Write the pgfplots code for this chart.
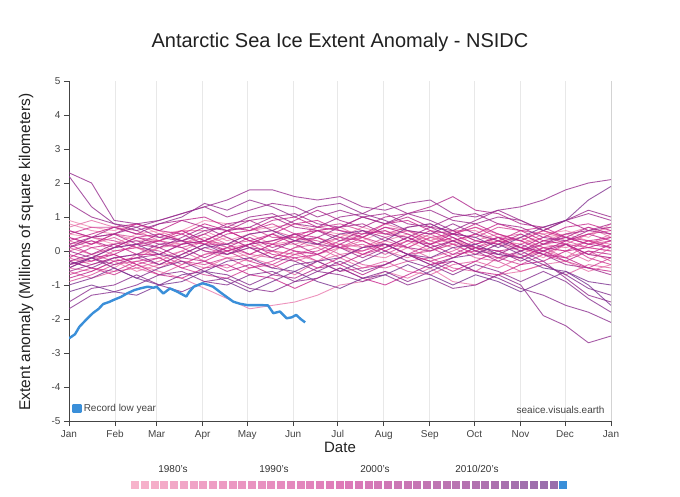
\documentclass[border=0pt]{standalone}
\usepackage{fontspec}
\setmainfont{Liberation Sans}
\usepackage{pgfplots}
\usepackage{pgfplotstable}
\pgfplotsset{compat=1.18}

\definecolor{pk}{HTML}{F391B6}
\definecolor{mg}{HTML}{C8268C}
\definecolor{pu}{HTML}{7A3592}
\definecolor{blue23}{HTML}{3A8FD9}
\definecolor{axgray}{HTML}{444444}
\definecolor{gridgray}{HTML}{E8E8E8}
\definecolor{labgray}{HTML}{444444}

% one row per year, anomaly (million km^2) at evenly spaced days of the year
\pgfplotstableread{
yr 0 15.2 30.4 45.6 60.8 76.0 91.3 106.5 121.7 136.9 152.1 167.3 182.5 197.7 212.9 228.1 243.3 258.5 273.8 289.0 304.2 319.4 334.6 349.8 365
y1979 0.5 0.4 0.2 0.5 0.6 0.3 0.2 0.4 0.1 0.3 0.4 0.2 0.5 0.4 0.1 0.3 0.0 0.2 0.5 0.3 0.4 0.6 0.3 0.5 0.7
y1980 0.9 0.7 0.6 0.8 0.5 0.6 0.9 0.8 0.6 0.7 0.8 0.6 0.5 0.3 0.6 0.4 0.2 0.4 0.0 0.3 0.2 0.5 0.6 0.4 0.8
y1981 -0.3 -0.2 -0.5 -0.1 0.1 0.3 0.0 -0.2 -0.1 0.2 0.3 0.1 0.4 0.7 0.5 0.6 0.4 0.3 0.5 0.2 0.1 -0.2 0.2 -0.1 -0.2
y1982 0.8 0.6 0.5 0.3 0.3 0.6 0.6 0.3 0.5 0.2 0.2 0.4 0.2 0.1 0.3 0.5 0.3 0.6 0.6 0.3 0.2 0.4 0.5 0.7 0.4
y1983 -0.5 -0.6 -0.3 -0.6 -0.4 -0.3 -0.5 -0.2 -0.3 0.0 -0.1 -0.3 0.1 -0.1 -0.2 0.1 0.4 0.2 -0.1 0.2 0.0 0.3 0.5 0.3 0.2
y1984 0.3 0.1 -0.1 -0.4 -0.6 -0.8 -1.1 -1.4 -1.7 -1.6 -1.5 -1.3 -1.0 -0.9 -0.6 -0.8 -0.5 -0.9 -1.0 -0.7 -0.6 -0.4 -0.3 -0.6 -0.4
y1985 0.2 0.3 0.0 0.1 -0.2 0.0 0.3 0.1 0.2 0.5 0.3 0.6 0.7 0.4 0.8 0.6 0.3 0.5 0.7 0.5 0.3 0.1 0.0 -0.3 0.1
y1986 0.7 0.9 0.7 0.6 0.3 0.2 0.4 0.1 -0.2 0.0 -0.3 -0.1 0.1 0.3 0.0 -0.2 0.1 0.3 0.1 0.4 0.5 0.2 0.1 0.3 0.1
y1987 -0.2 -0.4 -0.2 -0.5 -0.3 0.0 -0.3 -0.5 -0.2 -0.4 -0.7 -0.3 -0.1 0.0 0.3 0.1 -0.2 0.0 0.3 0.5 0.3 0.6 0.4 0.2 0.5
y1988 0.1 -0.1 -0.3 -0.2 0.1 0.2 0.5 0.2 0.3 0.0 -0.1 0.1 -0.2 -0.5 -0.3 -0.6 -0.7 -0.4 -0.3 -0.5 -0.2 0.0 -0.2 0.2 0.3
y1989 -0.6 -0.8 -0.6 -0.5 -0.7 -0.4 -0.1 0.0 0.2 0.3 0.5 0.2 0.4 0.1 0.4 0.6 0.3 0.1 -0.2 -0.3 -0.6 -0.4 -0.7 -0.4 -0.5
y1990 0.4 0.2 0.4 0.1 -0.1 -0.4 -0.1 0.1 -0.1 -0.2 0.1 0.2 -0.1 -0.4 -0.5 -0.3 -0.2 -0.5 -0.6 -0.2 -0.1 0.2 0.3 0.1 0.0
y1991 -0.9 -0.7 -0.4 -0.3 -0.5 -0.2 0.1 -0.1 0.1 -0.2 0.1 0.4 0.1 0.2 -0.1 0.2 0.5 0.6 0.3 0.2 0.4 0.1 -0.2 0.0 -0.3
y1992 0.0 0.2 0.5 0.4 0.3 0.6 0.3 0.2 0.5 0.6 0.4 0.3 0.1 0.4 0.7 0.6 0.5 0.2 0.1 -0.1 -0.2 0.1 0.2 0.5 0.6
y1993 -0.4 -0.3 0.0 0.1 0.3 0.1 0.3 0.6 0.7 0.4 0.4 0.7 0.8 0.6 0.5 0.7 0.8 0.5 0.4 0.7 0.6 0.5 0.2 0.1 0.0
y1994 0.6 0.4 0.3 0.1 0.0 -0.3 -0.4 -0.2 -0.5 -0.3 0.0 -0.3 -0.6 -0.5 -0.4 -0.1 0.0 0.2 -0.1 -0.2 -0.4 -0.1 -0.3 -0.5 -0.2
y1995 -0.3 -0.5 -0.6 -0.3 -0.2 -0.5 -0.7 -0.8 -0.5 -0.4 -0.1 0.0 0.3 0.4 0.2 0.1 0.4 0.5 0.7 0.4 0.3 0.6 0.4 0.2 0.4
y1996 0.2 -0.1 0.1 0.4 0.5 0.3 0.2 0.5 0.6 0.8 0.5 0.4 0.1 0.0 0.2 -0.1 -0.3 -0.1 0.0 0.3 0.1 -0.1 0.2 -0.2 -0.4
y1997 -0.7 -0.5 -0.7 -0.4 -0.2 -0.5 -0.3 0.0 -0.3 -0.5 -0.2 -0.1 0.2 -0.1 0.1 0.4 0.1 -0.2 0.1 0.3 0.6 0.7 0.4 0.3 0.1
y1998 0.5 0.7 0.7 0.5 0.4 0.6 0.3 0.0 0.2 -0.1 -0.2 -0.5 -0.2 0.1 0.2 -0.1 0.2 0.4 0.1 0.0 -0.2 0.1 0.0 0.3 0.4
y1999 -0.2 0.1 0.2 -0.1 -0.1 0.2 0.3 0.6 0.3 0.5 0.8 0.9 0.6 0.5 0.8 0.9 0.6 0.5 0.2 0.4 0.1 0.4 0.7 0.8 0.6
y2000 0.3 0.5 0.7 0.8 0.6 0.5 0.8 0.6 0.3 0.2 0.5 0.6 0.4 0.3 0.0 0.3 0.6 0.3 0.5 0.8 0.6 0.3 0.2 -0.1 0.2
y2001 -0.1 -0.3 -0.1 -0.4 -0.7 -0.8 -0.5 -0.4 -0.7 -0.8 -1.1 -0.8 -0.5 -0.8 -1.0 -0.7 -0.4 -0.3 -0.6 -0.7 -0.4 -0.3 0.0 0.1 0.3
y2002 -0.5 -0.2 -0.1 0.2 0.3 0.5 0.2 0.2 -0.1 0.2 0.0 -0.1 -0.4 -0.1 0.2 -0.1 -0.3 -0.6 -0.3 0.0 0.1 -0.1 -0.2 -0.5 -0.6
y2003 0.4 0.2 0.5 0.8 0.6 0.9 1.0 0.7 0.6 0.9 1.0 0.7 0.6 0.4 0.7 0.5 0.2 0.5 0.8 0.5 0.3 0.0 0.3 0.5 0.3
y2004 -0.8 -0.6 -0.3 -0.2 -0.4 -0.1 0.2 0.0 0.2 0.5 0.2 -0.1 0.2 0.5 0.6 0.3 0.2 -0.1 0.2 0.4 0.1 0.0 -0.3 0.0 -0.1
y2005 0.1 0.3 0.1 0.4 0.2 0.1 -0.2 0.1 0.4 0.1 0.3 0.6 0.7 1.0 0.8 1.0 0.7 0.6 0.3 0.2 0.5 0.2 0.4 0.7 0.5
y2006 0.6 0.4 0.5 0.2 0.1 -0.2 -0.3 -0.6 -0.4 -0.7 -0.8 -0.5 -0.4 -0.7 -0.4 -0.1 -0.4 -0.2 0.1 -0.2 0.0 0.3 0.4 0.2 0.1
y2007 -0.4 -0.2 0.1 0.2 0.5 0.3 0.5 0.8 0.9 0.6 0.9 1.2 0.9 0.7 1.0 1.1 1.3 1.6 1.2 1.1 0.8 0.7 0.9 0.6 0.5
y2008 0.2 0.4 0.7 0.5 0.8 0.9 0.7 0.6 0.9 1.0 0.7 0.6 0.3 0.6 0.4 0.1 0.0 0.3 0.0 -0.3 0.0 0.2 0.5 0.6 0.8
y2009 -0.3 -0.1 0.2 0.3 0.1 0.4 0.7 0.4 0.1 0.0 0.3 0.4 0.7 0.8 0.5 0.4 0.7 0.4 0.1 0.0 -0.3 0.0 0.2 -0.1 -0.2
y2010 0.0 -0.2 -0.4 -0.2 -0.1 0.2 0.3 0.6 0.7 1.0 1.1 0.8 0.7 1.0 1.1 0.8 0.7 1.0 1.1 0.8 0.7 0.4 0.3 0.6 0.7
y2011 -0.6 -0.4 -0.2 -0.1 0.2 0.3 0.0 -0.1 0.2 0.3 0.5 0.2 0.1 -0.2 0.1 0.4 0.1 0.3 0.0 -0.1 0.2 -0.1 -0.4 -0.5 -0.7
y2012 0.1 0.4 0.5 0.7 0.4 0.3 0.6 0.7 1.0 1.1 0.8 0.7 1.0 1.1 1.4 1.1 0.9 0.6 0.9 1.2 0.9 0.6 0.9 1.1 0.9
y2013 1.4 1.0 0.8 0.7 0.9 1.1 1.3 1.0 1.2 1.4 1.3 1.0 1.2 1.0 0.8 1.1 1.2 0.9 0.8 1.0 0.9 0.6 0.9 1.2 1.0
y2014 2.3 2.0 0.9 0.8 0.9 1.1 1.3 1.5 1.8 1.8 1.6 1.5 1.6 1.3 1.2 1.4 1.5 1.1 1.0 1.2 1.3 1.5 1.8 2.0 2.1
y2015 2.2 1.3 0.8 0.6 0.8 1.0 1.4 1.2 1.5 1.3 1.0 1.3 1.4 1.1 0.9 0.6 0.5 0.8 0.5 0.3 0.0 -0.3 -0.8 -1.3 -1.5
y2016 -0.3 -0.5 -0.2 -0.1 -0.4 -0.1 0.2 -0.1 0.1 -0.2 -0.3 -0.6 -0.7 -0.9 -0.7 -1.0 -0.8 -1.1 -1.0 -0.7 -1.0 -1.9 -2.2 -2.7 -2.5
y2017 -1.5 -1.1 -1.0 -0.7 -1.0 -1.2 -0.9 -0.8 -1.1 -1.2 -0.9 -0.8 -0.5 -0.8 -0.6 -0.9 -0.6 -0.3 -0.6 -0.8 -1.1 -1.3 -1.6 -1.8 -2.1
y2018 -1.7 -1.3 -1.2 -1.0 -0.7 -0.6 -0.9 -1.0 -0.7 -0.6 -0.9 -0.6 -0.3 -0.6 -0.4 -0.1 -0.4 -0.7 -0.4 -0.6 -0.9 -0.6 -0.9 -1.4 -1.8
y2019 -0.5 -0.2 -0.5 -0.8 -0.5 -0.3 -0.6 -0.7 -1.0 -0.7 -0.4 -0.3 -0.6 -0.3 0.0 -0.3 -0.5 -0.2 -0.1 0.2 -0.1 -0.4 -0.7 -1.1 -1.3
y2020 -0.4 -0.2 0.1 0.2 -0.1 -0.2 0.1 0.2 0.5 0.6 0.3 0.2 0.5 0.6 0.3 0.7 0.8 0.5 0.4 0.1 0.4 0.7 0.9 1.5 1.9
y2021 -1.0 -0.8 -0.5 -0.8 -1.0 -0.7 -0.6 -0.3 -0.2 -0.5 -0.6 -0.3 -0.2 0.1 0.2 -0.1 -0.2 0.1 0.2 -0.1 -0.2 -0.5 -0.6 -0.9 -1.0
y2022 -1.2 -1.0 -1.2 -1.3 -1.0 -0.9 -0.6 -0.9 -1.2 -0.9 -0.6 -0.9 -1.1 -0.8 -0.7 -0.4 -0.7 -1.0 -0.7 -0.9 -1.2 -0.9 -0.6 -1.0 -1.6
}\raw
\pgfplotstabletranspose[colnames from=yr, input colnames to=day]\T\raw

\begin{document}
\begin{tikzpicture}[x=1pt,y=1pt]
\useasboundingbox[fill=white] (0,0) rectangle (680,496);

\begin{axis}[
  at={(69pt,75pt)}, anchor=south west,
  scale only axis, width=542pt, height=340pt,
  xmin=0, xmax=365, ymin=-5, ymax=5,
  xtick={0,31,59,90,120,151,181,212,243,273,304,334,365},
  xticklabels={Jan,Feb,Mar,Apr,May,Jun,Jul,Aug,Sep,Oct,Nov,Dec,Jan},
  ytick={-5,-4,...,5},
  xmajorgrids,
  major grid style={gridgray, line width=0.9pt},
  axis lines*=left,
  axis line style={-, axgray, line width=0.8pt},
  every outer x axis line/.append style={-},
  every outer y axis line/.append style={-},
  tick align=outside,
  major tick length=5pt,
  tick style={axgray, line width=0.8pt},
  tick label style={font=\fontsize{10}{12}\selectfont, text=labgray},
  xticklabel style={yshift=-1pt},
  /pgf/number format/assume math mode=true,
  yl/.style={line width=0.9pt, opacity=0.8, forget plot, line join=round},
  legend style={at={(rel axis cs:0.004,0.014)}, anchor=south west, draw=none, fill=none,
    font=\fontsize{10}{12}\selectfont, text=labgray, inner sep=1pt},
  legend image code/.code={\fill[blue23] (0pt,-3.5pt) rectangle (7pt,3.5pt);},
]
\pgfplotsinvokeforeach{0,...,43}{
  \pgfmathtruncatemacro\yy{1979+#1}
  \ifnum#1<22
    \pgfmathtruncatemacro\pp{round(#1*100/21)}
    \edef\cc{mg!\pp!pk}
  \else
    \pgfmathtruncatemacro\pp{round((#1-22)*100/21)}
    \edef\cc{pu!\pp!mg}
  \fi
  \edef\cmd{\noexpand\addplot[yl, color=\cc] table[x=day, y=y\yy] {\noexpand\T};}
  \cmd
}
\addplot[blue23, line width=2.4pt, line join=round] coordinates {
(0,-2.57) (4,-2.45) (7,-2.23) (12,-2.0) (16,-1.83) (20,-1.7) (23,-1.56) (27,-1.5)
(30,-1.44) (35,-1.35) (39,-1.25) (44,-1.15) (48,-1.10) (53,-1.05) (57,-1.08) (59,-1.05)
(63.5,-1.25) (68,-1.10) (73,-1.2) (79,-1.34) (81,-1.2) (84,-1.05) (90,-0.95) (94,-1.0)
(97,-1.05) (103,-1.25) (110.6,-1.49) (115,-1.55) (120,-1.59) (128.6,-1.59) (134,-1.6)
(137.6,-1.83) (142,-1.78) (146.6,-1.98) (150,-1.95) (153,-1.88) (156,-2.0) (159,-2.1)};
\addlegendentry{Record low year}
\draw[axgray, line width=0.8pt] (rel axis cs:1,0) -- (rel axis cs:1,1);
\node[anchor=east, font=\fontsize{10}{12}\selectfont, text=labgray] at (rel axis cs:0.9945,0.032) {seaice.visuals.earth};
\end{axis}

% decade colour key
\begin{axis}[
  at={(135pt,6pt)}, anchor=south west,
  scale only axis, width=428pt, height=10pt,
  xmin=0, xmax=44, ymin=-1, ymax=1,
  hide axis, clip=false,
  colormap={sq}{rgb255=(247,179,203) rgb255=(222,122,184) rgb255=(152,110,172)},
  point meta min=0, point meta max=43,
]
\addplot[scatter, only marks, mark=square*, mark size=3.5pt, point meta=x,
  scatter/use mapped color={draw=mapped color, fill=mapped color}] coordinates {
(0,0)(1,0)(2,0)(3,0)(4,0)(5,0)(6,0)(7,0)(8,0)(9,0)(10,0)(11,0)(12,0)(13,0)(14,0)
(15,0)(16,0)(17,0)(18,0)(19,0)(20,0)(21,0)(22,0)(23,0)(24,0)(25,0)(26,0)(27,0)(28,0)
(29,0)(30,0)(31,0)(32,0)(33,0)(34,0)(35,0)(36,0)(37,0)(38,0)(39,0)(40,0)(41,0)(42,0)(43,0)};
\addplot[only marks, mark=square*, mark size=3.5pt, color=blue23] coordinates {(44,0)};
\end{axis}

\node[font=\fontsize{20}{24}\selectfont, text=black!87] at (340,454) {Antarctic Sea Ice Extent Anomaly - NSIDC};
\node[rotate=90, font=\fontsize{15.5}{18}\selectfont, text=black!87] at (26,244) {Extent anomaly (Millions of square kilometers)};
\node[font=\fontsize{15}{18}\selectfont, text=black!87] at (340,49) {Date};
\node[font=\fontsize{10}{12}\selectfont, text=black!80] at (173,27) {1980's};
\node[font=\fontsize{10}{12}\selectfont, text=black!80] at (274,27) {1990's};
\node[font=\fontsize{10}{12}\selectfont, text=black!80] at (375,27) {2000's};
\node[font=\fontsize{10}{12}\selectfont, text=black!80] at (477,27) {2010/20's};
\end{tikzpicture}
\end{document}
